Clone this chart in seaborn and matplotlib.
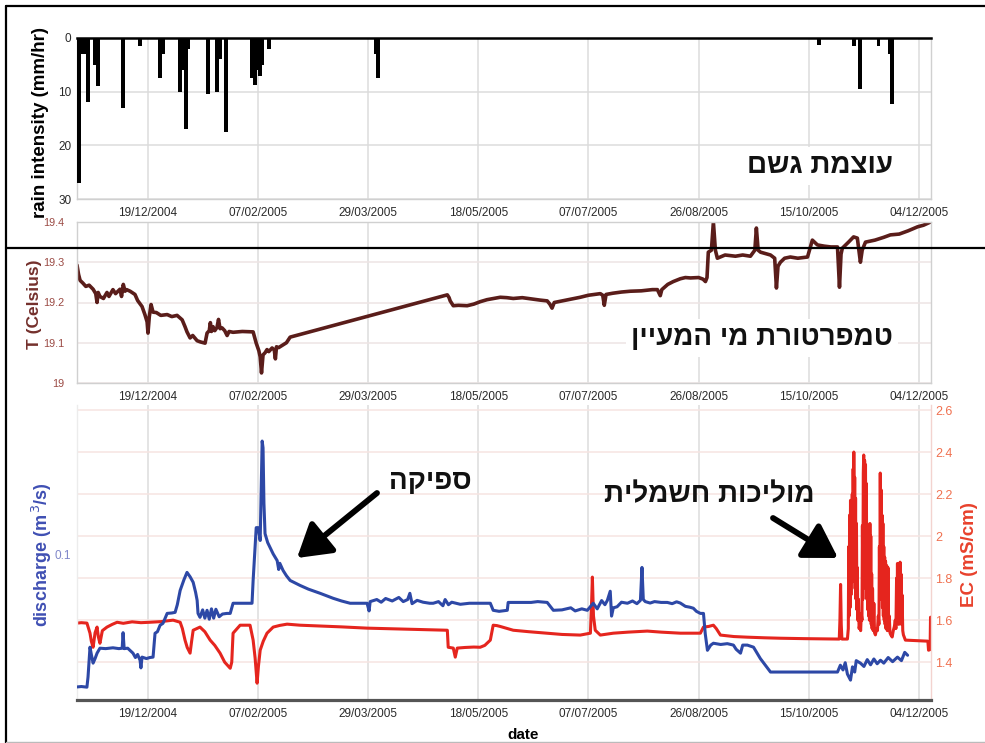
import pandas as pd
import matplotlib
matplotlib.use("Agg")
import matplotlib.pyplot as plt
from matplotlib.lines import Line2D
from matplotlib.patches import FancyArrowPatch
from matplotlib.ticker import StrMethodFormatter
import seaborn as sns

# ---------------- data ----------------
base_date = "2004-11-17"          # day 0 of every series below
x_end = "2005-12-09 10:00"
date_ticks = ["19/12/2004", "07/02/2005", "29/03/2005", "18/05/2005",
              "07/07/2005", "26/08/2005", "15/10/2005", "04/12/2005"]

# rain intensity (mm/hr)
rain_day = [0.9, 2.7, 4.1, 5.0, 8.2, 9.5, 20.9, 28.6, 37.7, 39.0, 46.8, 48.1,
            49.5, 50.4, 59.5, 63.5, 64.9, 67.6, 79.4, 80.8, 82.2, 83.1, 84.0,
            87.2, 135.7, 136.6, 336.4, 352.3, 355.0, 363.6, 369.0, 369.9]
rain_mm = [27, 3, 3, 12, 5, 9, 13, 1.5, 7.5, 3, 10, 6,
           17, 2, 10.5, 10, 4, 17.5, 7.5, 8.8, 6, 7, 5,
           2, 3, 7.5, 1.3, 1.5, 9.5, 1.5, 3, 12.3]

# spring water temperature (Celsius)
temp_day = [0, 0.7, 1.4, 2.7, 4.0, 5.5, 7.3, 8.5, 9.1, 9.6, 10.4, 12.0, 13.6,
            14.5, 16.3, 17.5, 19.5, 20.2, 21.0, 21.8, 22.5, 24.1, 26.3, 27.5,
            29.5, 30.8, 31.8, 32.2, 32.8, 33.6, 34.5, 36.0, 38.0, 40.9, 43.0,
            45.4, 47.7, 49.0, 49.9, 51.3, 52.5, 54.5, 56.0, 58.1, 59.0, 60.0,
            60.5, 61.0, 61.7, 62.5, 63.5, 64.2, 64.9, 65.8, 67.0, 68.1, 69.0,
            70.8, 75.0, 79.9, 81.3, 82.5, 83.1, 83.7, 84.4, 85.3, 86.2, 87.0,
            88.5, 89.5, 90.0, 90.5, 91.5, 93.5, 95.0, 96.7, 168.0, 168.8,
            169.3, 170.7, 173.0, 177.0, 180.0, 182.9, 186.0, 189.0, 192.0,
            195.0, 197.9, 202.0, 206.0, 210.0, 213.3, 214.5, 215.5, 216.5,
            219.2, 223.0, 228.3, 232.0, 237.4, 238.5, 239.2, 240.0, 243.0,
            247.0, 251.0, 256.0, 261.0, 263.3, 264.6, 265.3, 268.0, 270.5,
            273.7, 276.0, 278.3, 282.0, 284.0, 285.1, 285.8, 286.4, 287.8,
            288.7, 289.6, 290.5, 294.0, 298.7, 302.0, 305.5, 307.5, 308.2,
            309.0, 310.1, 312.0, 314.6, 316.5, 317.3, 318.0, 319.1, 321.0,
            323.6, 327.0, 331.4, 333.6, 335.9, 339.0, 342.0, 345.0, 345.9,
            346.6, 347.2, 350.0, 352.3, 354.0, 355.4, 356.2, 357.7, 362.0,
            366.0, 369.0, 373.0, 377.0, 381.3, 384.0, 387.2]
temp_c = [19.293, 19.27, 19.255, 19.248, 19.24, 19.243, 19.233, 19.222, 19.20,
          19.225, 19.215, 19.21, 19.225, 19.215, 19.232, 19.222, 19.233,
          19.215, 19.245, 19.228, 19.232, 19.228, 19.22, 19.205, 19.19, 19.17,
          19.152, 19.124, 19.165, 19.195, 19.176, 19.175, 19.168, 19.17,
          19.165, 19.168, 19.157, 19.14, 19.127, 19.112, 19.118, 19.105,
          19.102, 19.099, 19.124, 19.13, 19.15, 19.128, 19.14, 19.13, 19.138,
          19.158, 19.135, 19.137, 19.13, 19.118, 19.128, 19.126, 19.128,
          19.127, 19.099, 19.08, 19.065, 19.025, 19.07, 19.075, 19.083,
          19.078, 19.087, 19.082, 19.06, 19.09, 19.088, 19.095, 19.10, 19.114,
          19.219, 19.212, 19.204, 19.192, 19.193, 19.192, 19.196, 19.202,
          19.207, 19.21, 19.213, 19.212, 19.21, 19.212, 19.209, 19.206,
          19.204, 19.196, 19.186, 19.20, 19.203, 19.207, 19.213, 19.218,
          19.222, 19.218, 19.193, 19.22, 19.223, 19.226, 19.228, 19.229,
          19.232, 19.232, 19.217, 19.232, 19.245, 19.252, 19.259, 19.262,
          19.261, 19.262, 19.258, 19.252, 19.262, 19.325, 19.33, 19.40, 19.33,
          19.31, 19.318, 19.315, 19.318, 19.315, 19.33, 19.385, 19.33, 19.325,
          19.322, 19.318, 19.31, 19.236, 19.29, 19.30, 19.31, 19.313, 19.31,
          19.313, 19.355, 19.343, 19.34, 19.338, 19.338, 19.238, 19.32,
          19.335, 19.35, 19.363, 19.36, 19.30, 19.33, 19.35, 19.355, 19.362,
          19.368, 19.37, 19.378, 19.388, 19.392, 19.40]

# spring discharge (m^3/s)
q_day = [0, 2.0, 4.5, 5.0, 5.9, 6.5, 7.3, 8.2, 9.1, 10.4, 13.0, 16.3, 19.0,
         20.5, 20.9, 21.4, 23.0, 25.4, 26.5, 27.5, 28.6, 29.0, 29.5, 31.5,
         33.0, 34.5, 35.4, 36.5, 37.7, 39.0, 40.9, 43.0, 44.5, 45.5, 46.8,
         48.5, 49.9, 51.3, 52.7, 53.8, 54.5, 54.9, 55.8, 57.0, 58.0, 59.0,
         60.0, 61.0, 62.0, 63.0, 64.5, 66.0, 68.0, 69.5, 70.8, 75.0, 79.4,
         79.9, 81.3, 82.2, 83.1, 84.0, 84.4, 84.8, 85.3, 86.5, 87.6, 89.0,
         90.8, 91.5, 92.0, 93.5, 95.0, 96.7, 99.0, 101.2, 105.0, 110.3, 116.2,
         120.0, 123.9, 128.0, 131.6, 132.5, 133.0, 136.0, 138.0, 140.0, 143.0,
         146.0, 148.0, 150.0, 151.0, 152.0, 154.3, 157.0, 160.0, 161.6, 164.0,
         166.0, 167.0, 168.5, 170.0, 173.9, 178.0, 183.0, 187.5, 188.8, 191.5,
         195.2, 195.6, 200.0, 206.0, 209.0, 213.3, 216.1, 220.0, 224.0, 226.0,
         229.0, 231.5, 234.2, 236.0, 238.0, 239.5, 240.6, 241.9, 242.5, 243.3,
         245.0, 247.0, 249.7, 252.0, 254.0, 255.6, 256.3, 256.9, 257.8, 260.0,
         262.0, 265.0, 267.8, 270.0, 272.0, 273.7, 276.0, 278.0, 279.6, 281.0,
         282.8, 284.2, 285.0, 286.0, 287.5, 288.7, 292.0, 295.0, 297.8, 299.0,
         301.0, 302.0, 304.1, 306.9, 310.0, 314.6, 320.0, 330.0, 340.0, 345.0,
         346.3, 347.5, 348.5, 349.5, 350.9, 351.8, 352.8, 353.5, 355.4, 357.0,
         358.5, 360.0, 361.5, 363.0, 364.5, 366.0, 368.0, 370.0, 372.2, 374.0,
         375.5, 376.8]
q_m3s = [0.0363, 0.0365, 0.0362, 0.0411, 0.0555, 0.052, 0.0478, 0.050, 0.0526,
         0.055, 0.0548, 0.0552, 0.0548, 0.0550, 0.0625, 0.0548, 0.055, 0.0526,
         0.0505, 0.052, 0.0492, 0.0455, 0.0507, 0.050, 0.0505, 0.0507, 0.0622,
         0.063, 0.0661, 0.067, 0.0718, 0.072, 0.0723, 0.076, 0.0829, 0.088,
         0.0916, 0.0895, 0.0868, 0.082, 0.0781, 0.0718, 0.0699, 0.0735,
         0.0695, 0.0733, 0.0690, 0.0740, 0.0695, 0.0738, 0.0702, 0.0715,
         0.0718, 0.0718, 0.0767, 0.0767, 0.0767, 0.0877, 0.1132, 0.1132,
         0.107, 0.155, 0.1517, 0.125, 0.1103, 0.106, 0.1036, 0.1005, 0.0973,
         0.093, 0.096, 0.0925, 0.090, 0.0877, 0.0865, 0.0853, 0.0835, 0.0815,
         0.0791, 0.0778, 0.0767, 0.0767, 0.0767, 0.073, 0.0775, 0.0785,
         0.0772, 0.079, 0.0778, 0.0795, 0.0775, 0.0785, 0.0815, 0.0765,
         0.0781, 0.0772, 0.0767, 0.0767, 0.0775, 0.0755, 0.0785, 0.076,
         0.0772, 0.0762, 0.0767, 0.0767, 0.0767, 0.0733, 0.0728, 0.0733,
         0.0771, 0.0771, 0.0771, 0.0775, 0.0771, 0.0733, 0.0735, 0.0745,
         0.073, 0.074, 0.0733, 0.0767, 0.074, 0.078, 0.076, 0.0781, 0.0825,
         0.0705, 0.0745, 0.075, 0.0772, 0.0767, 0.0778, 0.0765, 0.0781, 0.094,
         0.0785, 0.0775, 0.0768, 0.0775, 0.0771, 0.0771, 0.0765, 0.0774,
         0.0768, 0.0752, 0.0748, 0.0743, 0.0728, 0.0718, 0.0718, 0.062,
         0.0540, 0.0565, 0.0574, 0.0568, 0.0572, 0.0565, 0.0545, 0.0526,
         0.0565, 0.0565, 0.0555, 0.0500, 0.0435, 0.0435, 0.0435, 0.0435,
         0.0435, 0.0468, 0.0445, 0.048, 0.0425, 0.0396, 0.046, 0.0435, 0.049,
         0.0478, 0.0462, 0.0495, 0.0470, 0.0498, 0.0475, 0.0492, 0.0478,
         0.0505, 0.0485, 0.0507, 0.049, 0.053, 0.0516]

# electrical conductivity (mS/cm)
ec_day = [0, 2.0, 4.5, 5.9, 6.5, 7.3, 8.2, 9.1, 9.7, 10.4, 11.5, 13.6, 16.0,
          18.2, 21.0, 25.0, 29.0, 33.1, 38.0, 43.6, 46.8, 47.8, 49.0, 50.0,
          51.3, 52.0, 52.7, 55.8, 58.0, 60.4, 62.5, 64.9, 67.0, 69.5, 70.2,
          70.8, 74.0, 78.5, 79.9, 80.8, 81.7, 82.3, 83.1, 84.5, 86.2, 89.0,
          92.0, 95.3, 101.2, 120.0, 131.6, 150.0, 168.0, 168.4, 170.7, 171.6,
          172.5, 176.0, 180.0, 182.9, 185.0, 187.5, 188.8, 190.5, 192.0,
          197.9, 205.0, 213.3, 220.0, 228.3, 232.9, 233.5, 233.8, 234.3,
          235.1, 237.4, 243.3, 250.0, 258.7, 265.0, 273.7, 282.8, 284.2,
          286.5, 288.7, 290.0, 291.9, 298.0, 304.1, 312.0, 319.1, 330.0,
          345.0, 345.8, 346.1, 346.4, 346.7, 347.0,
          349.5, 349.9, 350.1, 350.3, 350.5, 350.7, 350.9, 351.1, 351.3, 351.5,
          351.7, 351.9, 352.1, 352.3, 352.4, 352.6, 352.8, 353.0, 353.2, 353.4,
          353.6, 353.8, 354.0, 354.2, 354.5, 354.8, 355.1, 355.5, 355.8, 356.1,
          356.3, 356.5, 356.7, 356.9, 357.1, 357.3, 357.5, 357.7, 357.9, 358.1,
          358.3, 358.5, 358.7, 358.9, 359.1, 359.3, 359.5, 359.7, 359.9, 360.1,
          360.3, 360.5, 360.7, 360.9, 361.2, 361.5, 361.8, 362.2, 362.7, 363.1,
          363.5, 363.8, 364.0, 364.2, 364.4, 364.6, 364.8, 365.0, 365.2, 365.4,
          365.6, 365.8, 366.0, 366.2, 366.4, 366.6, 366.8, 367.0, 367.3, 367.6,
          367.9, 368.2, 368.5, 368.8, 369.2, 369.8, 370.3, 370.8, 371.2, 371.5,
          371.8, 372.0, 372.2, 372.4, 372.6, 372.8, 373.0, 373.2, 373.4, 373.6,
          373.8, 374.0, 374.3, 374.6, 374.9, 375.8,
          386.0, 386.3, 387.0, 387.2]
ec_mscm = [1.586, 1.588, 1.586, 1.538, 1.50, 1.471, 1.54, 1.567, 1.52, 1.49,
           1.55, 1.567, 1.58, 1.590, 1.585, 1.592, 1.588, 1.590, 1.593, 1.600,
           1.590, 1.56, 1.505, 1.47, 1.443, 1.50, 1.552, 1.567, 1.545, 1.505,
           1.48, 1.443, 1.40, 1.371, 1.40, 1.538, 1.576, 1.576, 1.505, 1.42,
           1.300, 1.38, 1.457, 1.50, 1.538, 1.567, 1.575, 1.581, 1.576, 1.568,
           1.562, 1.557, 1.552, 1.471, 1.467, 1.424, 1.467, 1.470, 1.472,
           1.471, 1.48, 1.505, 1.576, 1.574, 1.570, 1.552, 1.545, 1.538,
           1.532, 1.529, 1.538, 1.70, 1.805, 1.62, 1.552, 1.529, 1.538, 1.543,
           1.548, 1.543, 1.538, 1.538, 1.567, 1.57, 1.576, 1.56, 1.529, 1.522,
           1.519, 1.516, 1.514, 1.512, 1.510, 1.51, 1.60, 1.77, 1.58, 1.51,
           1.51, 1.56, 1.95, 1.62, 2.10, 1.66, 2.17, 1.72, 2.05, 1.78,
           2.20, 1.80, 2.32, 1.95, 2.40, 1.85, 2.28, 1.75, 2.18, 1.70,
           2.06, 1.65, 1.85, 1.60, 1.70, 1.56, 1.58, 1.55, 1.63, 1.60,
           2.05, 1.70, 2.30, 2.386, 1.85, 2.36, 1.80, 2.34, 1.75, 2.25,
           1.70, 2.05, 1.65, 2.00, 1.62, 1.98, 1.60, 2.06, 1.62, 2.00,
           1.58, 1.82, 1.56, 1.75, 1.55, 1.68, 1.54, 1.53, 1.56, 1.55,
           1.62, 1.58, 1.95, 1.70, 2.30, 1.80, 2.22, 1.70, 2.10, 1.66,
           2.06, 1.62, 1.95, 1.60, 1.90, 1.58, 1.88, 1.56, 1.86, 1.55,
           1.85, 1.56, 1.62, 1.54, 1.53, 1.52, 1.55, 1.57, 1.60, 1.56,
           1.80, 1.62, 1.87, 1.60, 1.85, 1.58, 1.84, 1.60, 1.876, 1.62,
           1.82, 1.58, 1.72, 1.55, 1.53, 1.505,
           1.500, 1.457, 1.46, 1.614]

rain_title = "עוצמת גשם"
temp_title = "טמפרטורת מי המעיין"
q_title = "ספיקה"
ec_title = "מוליכות חשמלית"

# ---------------- style ----------------
sns.set_theme(style="whitegrid")
plt.rcParams["font.family"] = ["Liberation Sans", "DejaVu Sans"]

W, H = 985, 743
fig = plt.figure(figsize=(W / 100, H / 100), dpi=100)
fig.patch.set_facecolor("white")


def to_dates(days):
    return pd.Timestamp(base_date) + pd.to_timedelta(pd.Series(days, dtype=float), unit="D")


def fx(px):
    return px / W


def fy(py):
    return 1 - py / H


def rtl(s):
    # matplotlib lays glyphs out left to right; reverse for Hebrew display order
    return s[::-1]


tick_pos = pd.to_datetime(date_ticks, format="%d/%m/%Y")
xlim = (pd.Timestamp(base_date), pd.Timestamp(x_end))

GRID = "#dcdcdc"
SPINE = "#d0d0d0"
BLUE = "#2d48a6"
RED = "#e5251e"
BROWN = "#5a1d1a"

L, R = 77, 931
ax_rain = fig.add_axes([fx(L), fy(199), fx(R - L), (199 - 38) / H])
ax_t = fig.add_axes([fx(L), fy(383), fx(R - L), (383 - 222) / H])
ax_ec = fig.add_axes([fx(L), fy(700), fx(R - L), (700 - 405) / H])
ax_q = ax_ec.twinx()


def style_dates(ax):
    ax.set_xlim(*xlim)
    ax.set_xticks(tick_pos)
    ax.set_xticklabels(date_ticks)
    ax.tick_params(axis="x", length=0, pad=6, labelsize=8.5, labelcolor="#2a2a2a")
    ax.grid(axis="x", color=GRID, lw=1.1)
    ax.set_xlabel("")
    for s in ax.spines.values():
        s.set_color(SPINE)
        s.set_linewidth(1.0)


# ---- rain intensity ----
ax_rain.bar(to_dates(rain_day), rain_mm, width=1.8, color="black", lw=0, zorder=3)
ax_rain.set_ylim(30, 0)
ax_rain.set_yticks([0, 10, 20, 30])
ax_rain.yaxis.set_major_formatter(StrMethodFormatter("{x:g}"))
ax_rain.tick_params(axis="y", length=0, pad=4, labelsize=8.5, labelcolor="#2a2a2a")
ax_rain.grid(axis="y", color=GRID, lw=1.1)
style_dates(ax_rain)
ax_rain.spines["top"].set_color("black")
ax_rain.spines["top"].set_linewidth(1.8)
ax_rain.spines["top"].set_zorder(4)
ax_rain.set_ylabel("rain intensity (mm/hr)", fontsize=13.5, fontweight="bold",
                   color="black")
ax_rain.yaxis.label.set_verticalalignment("center")
ax_rain.yaxis.set_label_coords((41 - L) / (R - L), (199 - 122) / 161)

# ---- temperature ----
sns.lineplot(x=to_dates(temp_day), y=temp_c, ax=ax_t, color=BROWN, linewidth=2.6,
             estimator=None, sort=False)
ax_t.set_ylim(19.0, 19.4)
ax_t.set_yticks([19.0, 19.1, 19.2, 19.3, 19.4])
ax_t.yaxis.set_major_formatter(StrMethodFormatter("{x:g}"))
ax_t.tick_params(axis="y", length=0, pad=9, labelsize=7.8, labelcolor="#9b4a44")
ax_t.grid(axis="y", color="#eee4e4", lw=1.1)
style_dates(ax_t)
ax_t.set_ylabel("T (Celsius)", fontsize=12.5, fontweight="bold", color="#74302c")
ax_t.yaxis.label.set_verticalalignment("center")
ax_t.yaxis.set_label_coords((35 - L) / (R - L), (383 - 304) / 161)

# ---- conductivity (host, right axis) ----
sns.lineplot(x=to_dates(ec_day), y=ec_mscm, ax=ax_ec, color=RED, linewidth=2.2,
             estimator=None, sort=False)
ax_ec.set_ylim(1.22, 2.624)
ax_ec.set_yticks([1.4, 1.6, 1.8, 2.0, 2.2, 2.4, 2.6])
ax_ec.yaxis.set_major_formatter(StrMethodFormatter("{x:g}"))
ax_ec.yaxis.set_ticks_position("right")
ax_ec.yaxis.set_label_position("right")
ax_ec.tick_params(axis="y", length=0, pad=3, labelsize=9, labelcolor="#f0704f")
ax_ec.grid(axis="y", color="#f6e4e2", lw=1.1)
style_dates(ax_ec)
ax_ec.spines["right"].set_color("#f3d3cf")
ax_ec.spines["left"].set_color("#ececec")
ax_ec.spines["top"].set_visible(False)
ax_ec.spines["bottom"].set_color("#555555")
ax_ec.spines["bottom"].set_linewidth(2.3)
ax_ec.set_ylabel("EC (mS/cm)", fontsize=13.5, fontweight="bold", color="#e8412c")
ax_ec.yaxis.label.set_verticalalignment("center")
ax_ec.yaxis.set_label_coords((970 - L) / (R - L), (700 - 555) / 295)
ax_ec.set_xlabel("date", fontsize=11, fontweight="bold", color="black")
ax_ec.xaxis.label.set_verticalalignment("center")
ax_ec.xaxis.set_label_coords((523 - L) / (R - L), (700 - 735) / 295)

# ---- discharge (twin, left axis) ----
sns.lineplot(x=to_dates(q_day), y=q_m3s, ax=ax_q, color=BLUE, linewidth=2.2,
             estimator=None, sort=False)
ax_q.set_xlim(*xlim)
ax_q.set_ylim(0.03, 0.1724)
ax_q.set_yticks([0.1])
ax_q.yaxis.set_major_formatter(StrMethodFormatter("{x:g}"))
ax_q.yaxis.set_ticks_position("left")
ax_q.yaxis.set_label_position("left")
ax_q.tick_params(axis="y", length=0, pad=4, labelsize=8.5, labelcolor="#7f86c9")
ax_q.grid(False)
for s in ax_q.spines.values():
    s.set_visible(False)
ax_q.set_ylabel("discharge (m$^{\\,3}$/s)", fontsize=13, fontweight="bold",
                color="#3f4fb3")
ax_q.yaxis.label.set_verticalalignment("center")
ax_q.yaxis.set_label_coords((42 - L) / (R - L), (700 - 555) / 295)

# ---- Hebrew captions ----
heb = dict(ha="center", va="center", fontsize=20, fontweight="bold", color="#111111",
           family=["Liberation Sans", "DejaVu Sans"])
box = dict(facecolor="white", edgecolor="none", pad=4)
fig.text(fx(820), fy(166), rtl(rain_title), bbox=box, **heb)
fig.text(fx(762), fy(338), rtl(temp_title), bbox=box, **heb)
fig.text(fx(430), fy(482), rtl(q_title), **heb)
fig.text(fx(709), fy(495), rtl(ec_title), **heb)

arrow = dict(arrowstyle="-|>,head_length=0.9,head_width=0.55", lw=4.2, color="black",
             shrinkA=0, shrinkB=0, mutation_scale=22)
fig.add_artist(FancyArrowPatch((fx(377), fy(493)), (fx(297), fy(558)),
                               transform=fig.transFigure, **arrow))
fig.add_artist(FancyArrowPatch((fx(773), fy(518)), (fx(838), fy(558)),
                               transform=fig.transFigure, **arrow))

# ---- panel frame ----
frame = dict(transform=fig.transFigure, color="black", lw=1.6, zorder=10)
fig.add_artist(Line2D([fx(6), fx(6)], [0, fy(6)], **frame))
fig.add_artist(Line2D([fx(6), 1], [fy(6), fy(6)], **frame))
fig.add_artist(Line2D([fx(6), 1], [fy(248), fy(248)], **frame))
fig.add_artist(Line2D([fx(6), 1], [fy(742), fy(742)], transform=fig.transFigure,
                      color="#bbbbbb", lw=1.0, zorder=10))

fig.savefig("out.png", dpi=100, facecolor="white")
